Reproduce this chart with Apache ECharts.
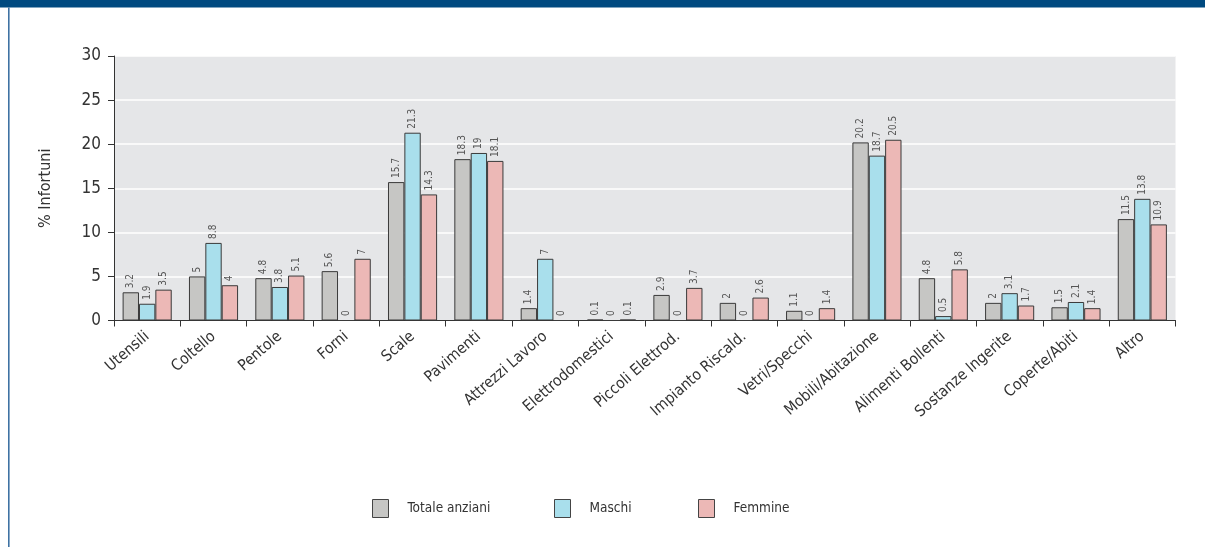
<!DOCTYPE html>
<html>
<head>
<meta charset="utf-8">
<script src="https://cdn.jsdelivr.net/npm/echarts@6/dist/echarts.min.js"></script>
<style>
  html, body { margin: 0; padding: 0; background: #ffffff; }
  #chart { width: 1205px; height: 547px; }
</style>
</head>
<body>
<div id="chart"></div>
<script>
// Injuries by cause: share of accidents (%) for all elderly, men and women
const categories = [
  'Utensili', 'Coltello', 'Pentole', 'Forni', 'Scale', 'Pavimenti',
  'Attrezzi Lavoro', 'Elettrodomestici', 'Piccoli Elettrod.', 'Impianto Riscald.',
  'Vetri/Specchi', 'Mobili/Abitazione', 'Alimenti Bollenti', 'Sostanze Ingerite',
  'Coperte/Abiti', 'Altro'
];
const totale  = [3.2, 5, 4.8, 5.6, 15.7, 18.3, 1.4, 0.1, 2.9, 2, 1.1, 20.2, 4.8, 2, 1.5, 11.5];
const maschi  = [1.9, 8.8, 3.8, 0, 21.3, 19, 7, 0, 0, 0, 0, 18.7, 0.5, 3.1, 2.1, 13.8];
const femmine = [3.5, 4, 5.1, 7, 14.3, 18.1, 0, 0.1, 3.7, 2.6, 1.4, 20.5, 5.8, 1.7, 1.4, 10.9];
const seriesNames = ['Totale anziani', 'Maschi', 'Femmine'];
const seriesColors = ['#c6c6c4', '#a9dfec', '#ecb8b6'];
const yTicks = { min: 0, max: 30, interval: 5 };

const FONT = '"DejaVu Sans Condensed", "Liberation Sans", sans-serif';

const chart = echarts.init(document.getElementById('chart'), null, { renderer: 'canvas' });

function makeSeries(name, data, color) {
  return {
    name: name,
    type: 'bar',
    data: data,
    barGap: '0%',
    barCategoryGap: '26%',
    itemStyle: { color: color, borderColor: '#3a3a3a', borderWidth: 1 },
    label: {
      show: true,
      position: 'top',
      rotate: 90,
      align: 'left',
      verticalAlign: 'middle',
      distance: 4,
      fontFamily: FONT,
      fontSize: 10,
      color: '#555555'
    },
    emphasis: { disabled: true }
  };
}

function makeLegend(name, left) {
  return {
    data: [name],
    left: left,
    top: 494,
    icon: 'rect',
    itemWidth: 16,
    itemHeight: 18,
    selectedMode: false,
    itemStyle: { borderColor: '#444444', borderWidth: 1 },
    textStyle: { fontFamily: FONT, fontSize: 13.5, color: '#333333', padding: [0, 0, 0, 14] }
  };
}

chart.setOption({
  animation: false,
  backgroundColor: '#ffffff',
  graphic: [
    { type: 'rect', shape: { x: 0, y: 0, width: 1205, height: 7.5 }, style: { fill: '#004a80' }, silent: true },
    { type: 'rect', shape: { x: 8, y: 7.5, width: 1.6, height: 540 }, style: { fill: '#3f72a3' }, silent: true }
  ],
  grid: {
    left: 114, right: 29.5, top: 56, bottom: 226.5,
    show: true, backgroundColor: '#e5e6e8', borderWidth: 0
  },
  legend: [
    makeLegend(seriesNames[0], 367),
    makeLegend(seriesNames[1], 549),
    makeLegend(seriesNames[2], 693)
  ],
  xAxis: {
    type: 'category',
    data: categories,
    boundaryGap: true,
    axisLine: { show: true, lineStyle: { color: '#333333', width: 1 } },
    axisTick: { show: true, length: 6, lineStyle: { color: '#333333' } },
    axisLabel: {
      rotate: 41,
      interval: 0,
      margin: 14,
      fontFamily: FONT,
      fontSize: 15.5,
      color: '#333333'
    },
    splitLine: { show: false }
  },
  yAxis: {
    type: 'value',
    min: yTicks.min,
    max: yTicks.max,
    interval: yTicks.interval,
    name: '% Infortuni',
    nameLocation: 'middle',
    nameGap: 60,
    nameTextStyle: { fontFamily: FONT, fontSize: 16, color: '#333333' },
    axisLine: { show: true, lineStyle: { color: '#333333', width: 1 } },
    axisTick: { show: true, length: 6, lineStyle: { color: '#333333' } },
    axisLabel: { margin: 13, fontFamily: FONT, fontSize: 17, color: '#333333' },
    splitLine: { show: true, lineStyle: { color: '#ffffff', width: 1.5 } }
  },
  series: [
    makeSeries(seriesNames[0], totale, seriesColors[0]),
    makeSeries(seriesNames[1], maschi, seriesColors[1]),
    makeSeries(seriesNames[2], femmine, seriesColors[2])
  ]
});
</script>
</body>
</html>
